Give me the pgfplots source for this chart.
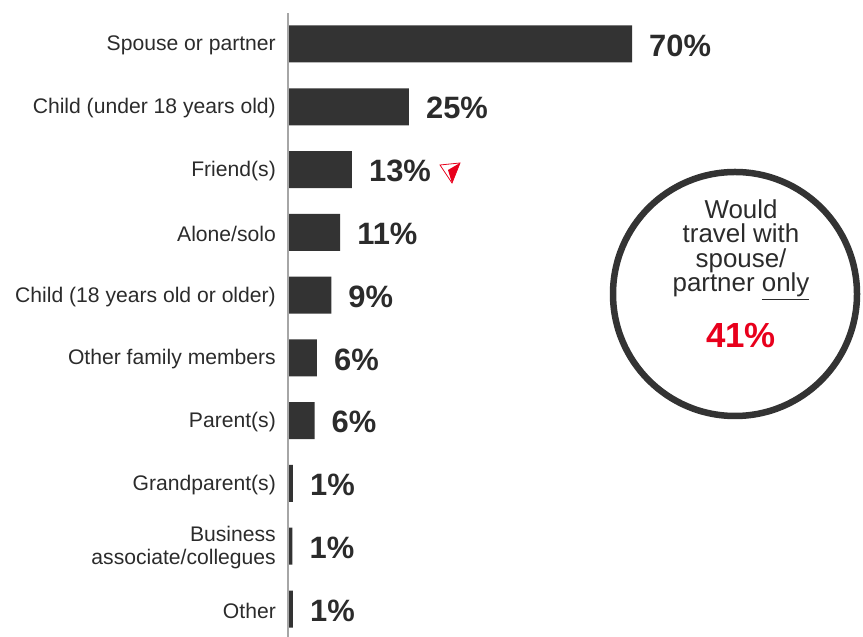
\documentclass[border=0pt]{standalone}
\usepackage{pgfplots}
\pgfplotsset{compat=1.18}
\usepackage{fontspec}
\setmainfont{Liberation Sans}
\definecolor{barc}{HTML}{333333}
\definecolor{txt}{HTML}{2B2B2B}
\definecolor{axg}{HTML}{A6A6A6}
\definecolor{hired}{HTML}{E8001C}
\begin{document}
\begin{tikzpicture}[x=1bp,y=1bp]
\useasboundingbox (0,0) rectangle (863,637);
\begin{axis}[
  at={(288bp,-3.4bp)}, anchor=south west,
  scale only axis, width=575bp, height=627.8bp,
  xbar, bar width=37bp,
  xmin=0, xmax=117, ymin=-0.5, ymax=9.5, y dir=reverse,
  axis line style={draw=none},
  xtick=\empty,
  ytick={0,...,9},
  yticklabels={Spouse or partner,Child (under 18 years old),Friend(s),Alone/solo,Child (18 years old or older),Other family members,Parent(s),Grandparent(s),{Business\\associate/collegues},Other},
  major tick length=0pt,
  yticklabel style={font=\fontsize{21.2}{22.5}\selectfont, text=txt, align=right, inner sep=0pt, xshift=-12bp, yshift=-1.5bp},
  point meta=explicit symbolic,
  nodes near coords={\pgfplotspointmeta\%},
  nodes near coords style={font=\bfseries\fontsize{31}{31}\selectfont, text=txt, anchor=west, inner sep=0pt, xshift=17bp, yshift=-1.5bp},
  clip=false,
]
\addplot[fill=barc, draw=none] coordinates {
  (70,0) [70]
  (24.6,1) [25]
  (13,2) [13]
  (10.6,3) [11]
  (8.8,4) [9]
  (5.9,5) [6]
  (5.4,6) [6]
  (1,7) [1]
  (0.9,8) [1]
  (1,9) [1]
};
\draw[axg, line width=1.5bp] (axis cs:0,-0.49) -- (axis cs:0,9.55);
\end{axis}
% red cursor icon
\draw[hired, line width=0.8bp, line join=miter] (440,637-165) -- (460,637-163) -- (452,637-183) -- cycle;
\fill[hired] (448,637-170) -- (460,637-163) -- (452,637-183) -- cycle;
% circle callout
\draw[barc, line width=6.5bp] (735,343) circle (122);
\node[align=center, font=\fontsize{26}{24.7}\selectfont, text=txt, anchor=base] at (741,637-292) {Would\\travel with\\spouse/\\partner \underline{only}};
\node[font=\bfseries\fontsize{35}{35}\selectfont, text=hired, anchor=base] at (741,637-348) {41\%};
\end{tikzpicture}
\end{document}
